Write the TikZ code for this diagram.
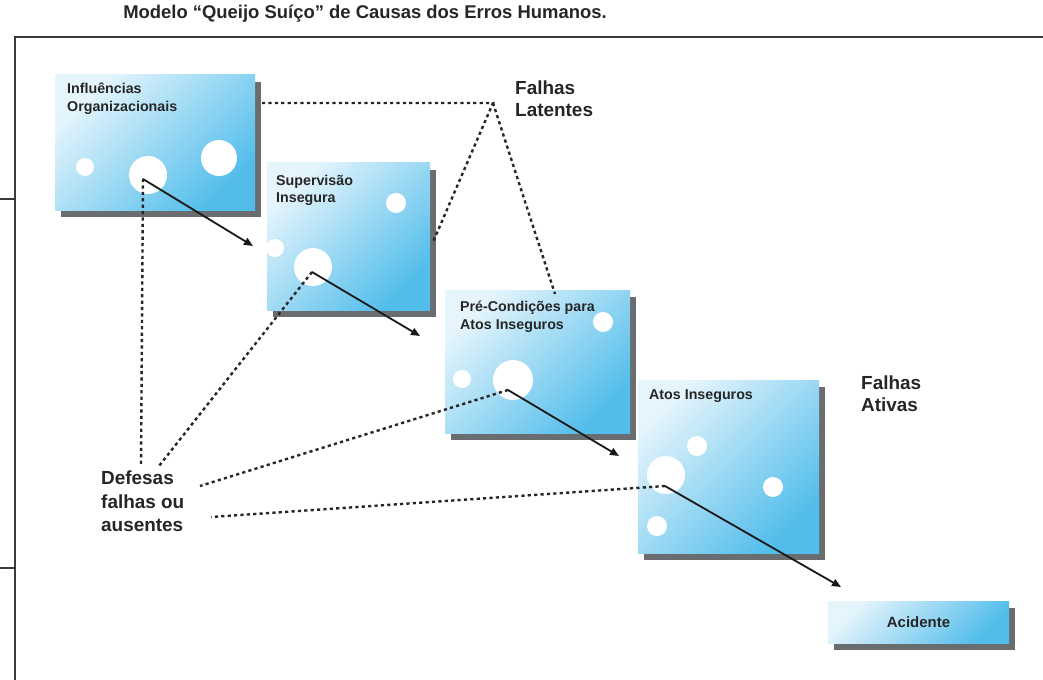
\documentclass[tikz,border=0pt]{standalone}
\usepackage{fontspec}
\setmainfont{Liberation Sans}
\usetikzlibrary{shadows,arrows.meta}
\definecolor{boxtl}{HTML}{E6F5FC}
\definecolor{boxbr}{HTML}{52BDEB}
\definecolor{shadowc}{HTML}{6A6D70}
\definecolor{inkc}{HTML}{262626}
\definecolor{framec}{HTML}{3A3A3A}
\tikzset{
  cheese/.style={anchor=north west, inner sep=0, outer sep=0, draw=none,
    top color=boxtl, bottom color=boxbr, shading angle=45,
    drop shadow={shadow xshift=6bp, shadow yshift=-7bp, fill=shadowc, opacity=1}},
  hole/.style={circle, fill=white, draw=none, inner sep=0, outer sep=0},
  boxlabel/.style={anchor=north west, inner sep=0, align=left, text=inkc,
    font=\fontsize{14.3}{17.5}\selectfont\bfseries},
  biglabel/.style={anchor=north west, inner sep=0, align=left, text=inkc,
    font=\fontsize{19}{22}\selectfont\bfseries},
  causal/.style={draw=black!90, line width=1.8bp, -{Triangle[length=9bp,width=7.5bp]}},
  dotline/.style={draw=inkc, line width=2.4bp, dash pattern=on 3.2bp off 3.2bp},
}
\begin{document}
\begin{tikzpicture}[x=1bp,y=-1bp]
\useasboundingbox (0,0) rectangle (1043,680);
\fill[white] (0,0) rectangle (1043,680);

% title and frame
\node[anchor=center, inner sep=0, text=inkc, font=\fontsize{18.5}{21}\selectfont\bfseries] (title) at (365,14) {Modelo “Queijo Suíço” de Causas dos Erros Humanos.};
\coordinate (fbl) at (15,680);
\coordinate (ftl) at (15,37);
\coordinate (ftr) at (1043,37);
\draw[framec, line width=1.8bp] (fbl) -- (ftl) -- (ftr);
\coordinate (la) at (0,199); \coordinate (lb) at (15,199);
\coordinate (lc) at (0,568); \coordinate (ld) at (15,568);
\draw[framec, line width=1.4bp] (la) -- (lb);
\draw[framec, line width=1.4bp] (lc) -- (ld);

% boxes
\node[cheese, minimum width=200bp, minimum height=135bp] (b1) at (55,75) {};
\node[cheese, minimum width=163bp, minimum height=147bp] (b2) at (267,163) {};
\node[cheese, minimum width=185bp, minimum height=143bp] (b3) at (445,290) {};
\node[cheese, minimum width=181bp, minimum height=173bp] (b4) at (638,380) {};
\node[cheese, minimum width=181bp, minimum height=42bp] (b5) at (828,601) {};

% holes
\node[hole, minimum size=18bp] (h1a) at (85,167) {};
\node[hole, minimum size=38bp] (h1b) at (148,175) {};
\node[hole, minimum size=36bp] (h1c) at (219,158) {};
\node[hole, minimum size=20bp] (h2a) at (396,203) {};
\node[hole, minimum size=18bp] (h2b) at (275,248) {};
\node[hole, minimum size=38bp] (h2c) at (313,267) {};
\node[hole, minimum size=20bp] (h3a) at (603,322) {};
\node[hole, minimum size=18bp] (h3b) at (462,379) {};
\node[hole, minimum size=40bp] (h3c) at (513,380) {};
\node[hole, minimum size=20bp] (h4a) at (697,446) {};
\node[hole, minimum size=38bp] (h4b) at (666,475) {};
\node[hole, minimum size=20bp] (h4c) at (773,487) {};
\node[hole, minimum size=20bp] (h4d) at (657,526) {};

% box labels
\node[boxlabel] (t1) at (67,83) {Influências\\Organizacionais};
\node[boxlabel] (t2) at (276,175) {Supervisão\\Insegura};
\node[boxlabel] (t3) at (460,301) {Pré-Condições para\\Atos Inseguros};
\node[boxlabel] (t4) at (649,389) {Atos Inseguros};
\node[anchor=center, inner sep=0, text=inkc, font=\fontsize{15}{18}\selectfont\bfseries] (t5) at (b5.center) {Acidente};

% big labels
\node[biglabel] (fl) at (515,81) {Falhas\\Latentes};
\node[biglabel] (fa) at (861,376) {Falhas\\Ativas};
\node[anchor=north west, inner sep=0, align=left, text=inkc,
  font=\fontsize{19}{23.5}\selectfont\bfseries] (df) at (101,471) {Defesas\\falhas ou\\ausentes};

% points
\coordinate (p1) at (143,179);
\coordinate (p2) at (312,272);
\coordinate (p3) at (508,390);
\coordinate (p4) at (665,486);
\coordinate (e1) at (253,246);
\coordinate (e2) at (420,336);
\coordinate (e3) at (619,456);
\coordinate (e4) at (841,587);

% latent failures lines
\coordinate (l0) at (262,103);
\coordinate (apex) at (493,103);
\coordinate (l2) at (433,242);
\coordinate (l3) at (555,294);
\draw[dotline] (l0) -- (apex) -- (l2);
\draw[dotline] (apex) -- (l3);

% defenses lines
\coordinate (d1) at (141,466);
\coordinate (d2) at (159,466);
\coordinate (d3) at (200,486);
\coordinate (d4) at (211,517);
\draw[dotline] (p1) -- (d1);
\draw[dotline] (p2) -- (d2);
\draw[dotline] (p3) -- (d3);
\draw[dotline] (p4) -- (d4);

% causal arrows
\draw[causal] (p1) -- (e1);
\draw[causal] (p2) -- (e2);
\draw[causal] (p3) -- (e3);
\draw[causal] (p4) -- (e4);
\end{tikzpicture}
\end{document}
